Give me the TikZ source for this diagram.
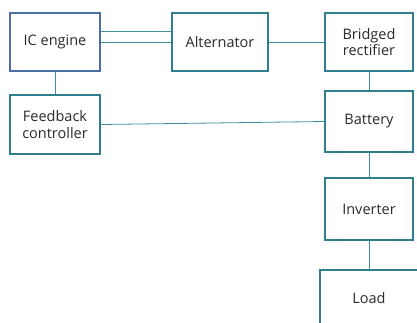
\documentclass[tikz,border=0pt]{standalone}
\usepackage{fontspec}
\setmainfont{Open Sans}
\definecolor{teal1}{HTML}{2F7F8F}
\definecolor{blue1}{HTML}{4C6EA8}
\definecolor{line1}{HTML}{3E8EA0}
\definecolor{txt}{HTML}{2A2A2A}
\begin{document}
\begin{tikzpicture}[x=1pt,y=1pt,
  blk/.style={draw=teal1,line width=1.6pt,fill=white,align=center,inner sep=0pt,
    font=\fontsize{14.5}{16.5}\selectfont,text=txt},
  conn/.style={draw=line1,line width=0.8pt}]
\useasboundingbox (0,0) rectangle (417,-322);
\clip (0,0) rectangle (417,-322);
\node[blk,draw=blue1,minimum width=90,minimum height=58] (ic) at (55,-42) {IC engine};
\node[blk,minimum width=90,minimum height=59] (fb) at (55,-124.5) {Feedback\\controller};
\node[blk,minimum width=96,minimum height=58] (alt) at (220,-42) {Alternator};
\node[blk,minimum width=88,minimum height=58] (rec) at (369,-42) {Bridged\\rectifier};
\node[blk,minimum width=88,minimum height=61] (bat) at (369,-121.5) {Battery};
\node[blk,minimum width=88,minimum height=62] (inv) at (369,-209) {Inverter};
\node[blk,minimum width=98,minimum height=56] (load) at (369,-298) {Load};
\draw[conn] ([yshift=11pt]ic.east) -- ([yshift=11pt]alt.west);
\draw[conn] (ic.east) -- (alt.west);
\draw[conn] (alt.east) -- (rec.west);
\draw[conn] (ic.south) -- (fb.north);
\draw[conn] (fb.east) -- (bat.west);
\draw[conn] (rec.south) -- (bat.north);
\draw[conn] (bat.south) -- (inv.north);
\draw[conn] (inv.south) -- (load.north);
\end{tikzpicture}
\end{document}
